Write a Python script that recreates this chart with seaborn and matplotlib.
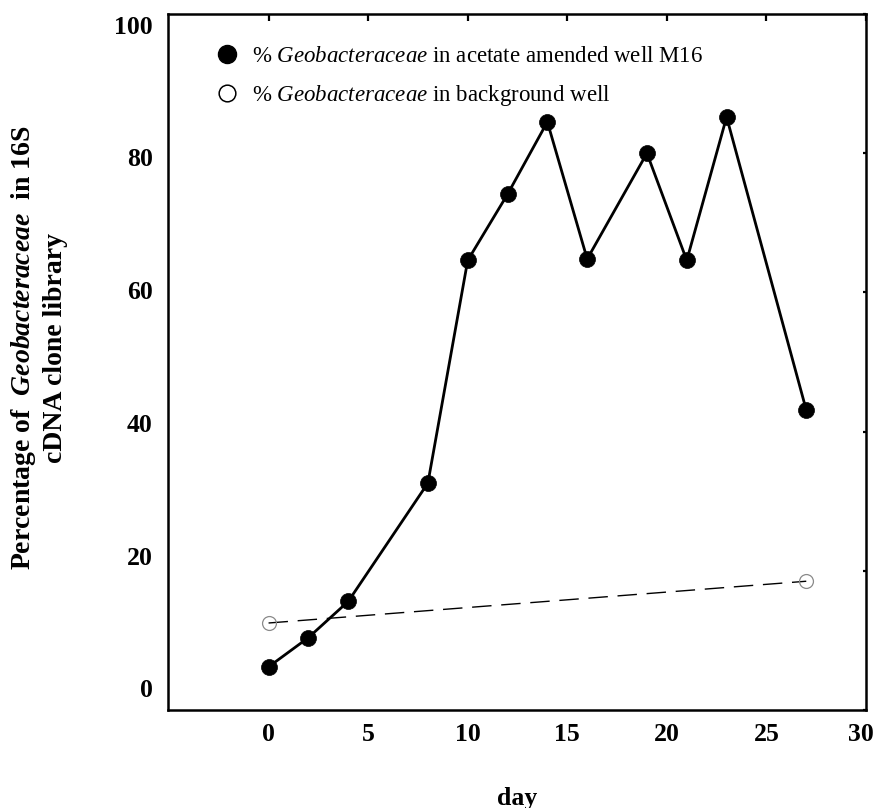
import matplotlib
matplotlib.use("Agg")
import matplotlib.pyplot as plt
import matplotlib.transforms as mtransforms
from matplotlib.lines import Line2D
import pandas as pd
import seaborn as sns

# ---- data ----
days_amended = [0, 2, 4, 8, 10, 12, 14, 16, 19, 21, 23, 27]
pct_amended = [6.2, 10.4, 15.6, 32.6, 64.6, 74.1, 84.5, 64.8, 80.0, 64.6, 85.2, 43.1]
days_background = [0, 27]
pct_background = [12.5, 18.5]
x_ticks = [0, 5, 10, 15, 20, 25, 30]
y_ticks = [0, 20, 40, 60, 80, 100]
legend_labels = [r"% $\mathit{Geobacteraceae}$ in acetate amended well M16",
                 r"% $\mathit{Geobacteraceae}$ in background well"]
x_label = "day"
y_label = "Percentage of  $\\mathbfit{Geobacteraceae}$  in 16S\ncDNA clone library"

sns.set_theme(style="white")
plt.rcParams.update({
    "font.family": ["Liberation Serif", "DejaVu Serif"],
    "mathtext.fontset": "custom",
    "mathtext.rm": "Liberation Serif",
    "mathtext.it": "Liberation Serif:italic",
    "mathtext.bf": "Liberation Serif:bold",
    "mathtext.bfit": "Liberation Serif:bold:italic",
    "axes.edgecolor": "black",
    "text.color": "black",
    "axes.labelcolor": "black",
    "xtick.color": "black",
    "ytick.color": "black",
})

fig = plt.figure(figsize=(8.75, 8.08), dpi=100)
ax = fig.add_axes([168 / 875, 98 / 808, 698 / 875, 696 / 808])

df_a = pd.DataFrame({"day": days_amended, "pct": pct_amended})
df_b = pd.DataFrame({"day": days_background, "pct": pct_background})

sns.lineplot(data=df_b, x="day", y="pct", ax=ax, color="black", linewidth=1.0,
             linestyle=(0, (14, 7)), marker="o", markersize=10,
             markerfacecolor="none", markeredgecolor="#8a8a8a",
             markeredgewidth=0.9, zorder=2)
sns.lineplot(data=df_a, x="day", y="pct", ax=ax, color="black", linewidth=2.0,
             marker="o", markersize=11.5, markerfacecolor="black",
             markeredgecolor="black", markeredgewidth=0.5, zorder=3)

ax.set_xlim(-5.05, 30)
ax.set_ylim(0, 100)
ax.set_xticks(x_ticks, [str(t) for t in x_ticks], fontsize=18.5, fontweight="bold")
ax.set_yticks(y_ticks, [str(t) for t in y_ticks], fontsize=18.5, fontweight="bold")
ax.tick_params(axis="x", direction="in", length=5, width=1.6, top=True, pad=9.5)
ax.tick_params(axis="y", direction="in", length=2, width=1.6, right=True, pad=11)

for sp in ax.spines.values():
    sp.set_visible(True)
    sp.set_linewidth(1.8)
    sp.set_color("black")

# y tick labels in the reference sit slightly off their tick marks
ylabel_shift_px = [-22, -15, -9, -2, 4, 11]
for lbl, sh in zip(ax.get_yticklabels(), ylabel_shift_px):
    lbl.set_transform(lbl.get_transform() +
                      mtransforms.ScaledTranslation(0, -sh / 100, fig.dpi_scale_trans))
# keep the last x tick label inside the figure edge
last_x = ax.get_xticklabels()[-1]
last_x.set_transform(last_x.get_transform() +
                     mtransforms.ScaledTranslation(-5 / 100, 0, fig.dpi_scale_trans))

ax.set_xlabel(x_label, fontsize=18.5, fontweight="bold")
ax.xaxis.set_label_coords(0.5, (710 - 798) / 696)
ax.xaxis.label.set_va("center")

ax.set_ylabel(y_label, fontsize=20, fontweight="bold", linespacing=1.25)
ax.yaxis.set_label_coords(-0.185, 0.52)
ax.yaxis.label.set_va("center")

handles = [
    Line2D([], [], ls="none", marker="o", markersize=13, color="black"),
    Line2D([], [], ls="none", marker="o", markersize=12, markerfacecolor="none",
           markeredgecolor="black", markeredgewidth=1.1),
]
ax.legend(handles, legend_labels, loc="upper left", bbox_to_anchor=(0.068, 0.954),
          frameon=False, fontsize=16.5, handlelength=1.0, handletextpad=0.6,
          labelspacing=0.68, borderpad=0, borderaxespad=0)

fig.savefig("out.png", dpi=100, facecolor="white")
